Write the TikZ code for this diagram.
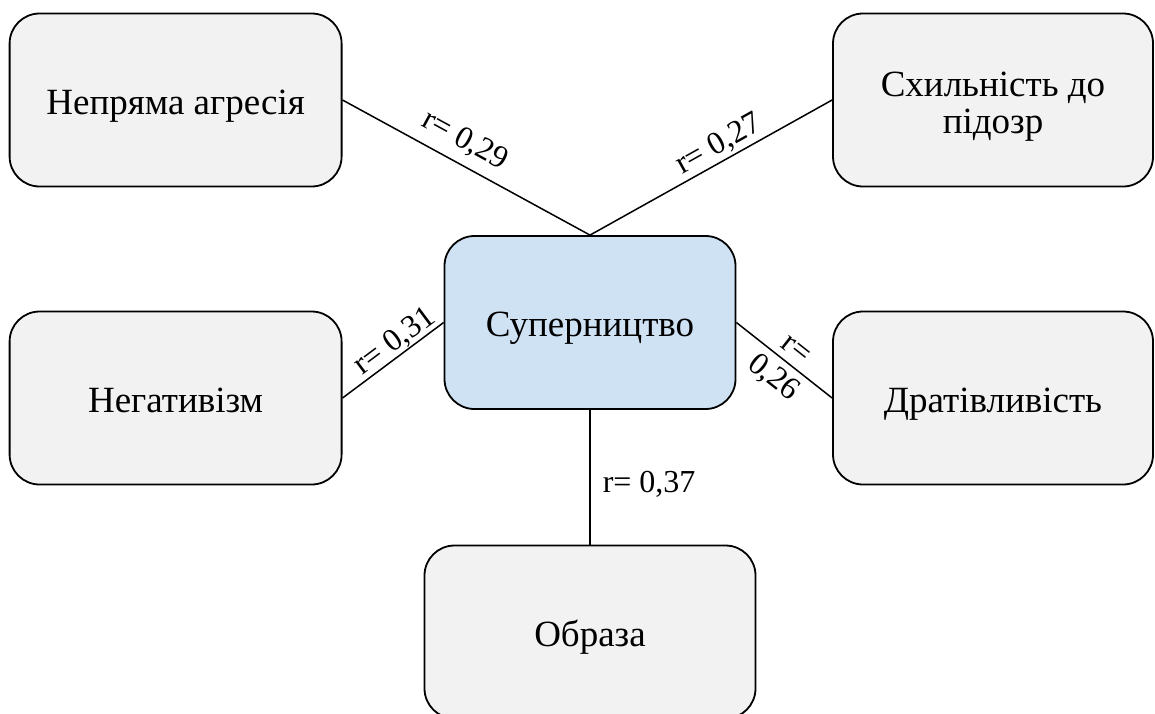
\documentclass[tikz,border=0pt]{standalone}
\usepackage{fontspec}
\setmainfont{Liberation Serif}
\definecolor{boxgray}{HTML}{F2F2F2}
\definecolor{boxblue}{HTML}{CFE2F3}

\begin{document}
\begin{tikzpicture}[x=1pt,y=-1pt,
  box/.style={draw,line width=1.8pt,rounded corners=30pt,fill=boxgray,
    minimum height=173pt,align=center,text height=28pt,text depth=0pt,
    font=\fontsize{37}{37}\selectfont},
  lbl/.style={inner sep=0pt,font=\fontsize{32}{37}\selectfont}]
\useasboundingbox (0,0) rectangle (1155,713);
\node[box,minimum width=332pt] (agr) at (175.6,100) {Непряма агресія};
\node[box,minimum width=320pt,text height=66pt] (susp) at (993,100) {Схильність до\\підозр};
\node[box,minimum width=291pt,fill=boxblue] (riv) at (590,322.5) {Суперництво};
\node[box,minimum width=332pt] (neg) at (175.6,398) {Негативізм};
\node[box,minimum width=320pt] (irr) at (993,398) {Дратівливість};
\node[box,minimum width=331pt] (off) at (590,632) {Образа};
\draw[line width=1.5pt]
  (agr.east) -- node[lbl,sloped,above=9pt,pos=0.45] {r= 0,29} (riv.north);
\draw[line width=1.5pt]
  (susp.west) -- node[lbl,sloped,above=2.5pt,pos=0.435] {r= 0,27} (riv.north);
\draw[line width=1.5pt]
  (neg.east) -- node[lbl,sloped,above=0pt,pos=0.6] {r= 0,31} (riv.west);
\draw[line width=1.5pt]
  (riv.east) -- node[lbl,sloped,align=center,above=-34.5pt,pos=0.52] {r=\\0,26} (irr.west);
\draw[line width=1.5pt]
  (riv.south) -- node[lbl,right=12pt,pos=0.55] {r= 0,37} (off.north);
\end{tikzpicture}
\end{document}
